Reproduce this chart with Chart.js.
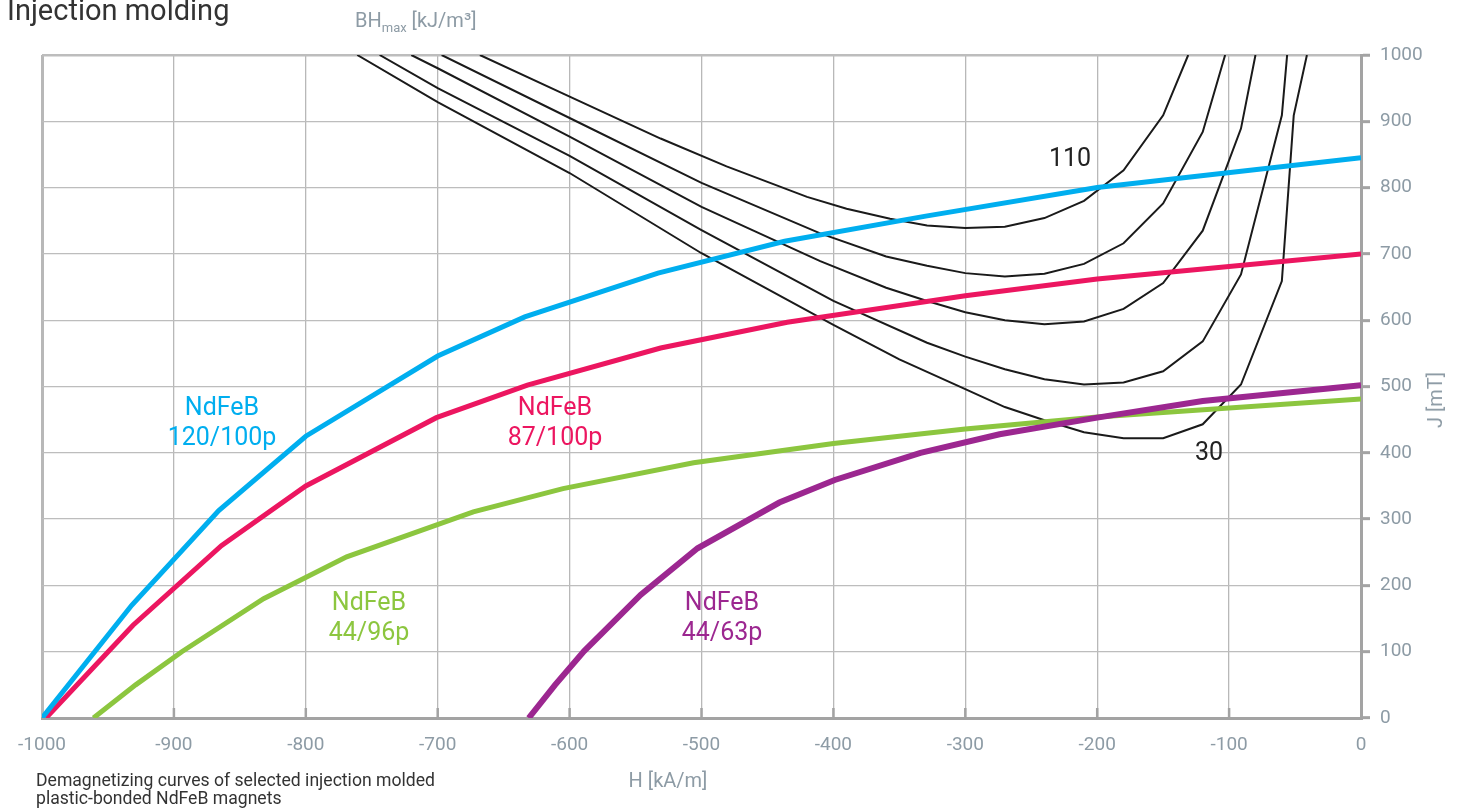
<!DOCTYPE html>
<html>
<head>
    <title>Injection molding</title>
    <script src="https://cdn.jsdelivr.net/npm/chart.js"></script>
    <style>
        body { margin: 0; background: #fff; }
        .wrap { position: relative; width: 1470px; height: 812px; overflow: hidden; font-family: Roboto, sans-serif; }
        canvas { position: absolute; left: 0; top: 0; }
        .txt { position: absolute; line-height: 1; white-space: nowrap; }
        .lbl { position: absolute; font-size: 25px; line-height: 30px; text-align: center; transform: translateX(-50%); white-space: nowrap; }
        .gray { color: #8d9ba5; }
    </style>
</head>
<body>
<div class="wrap">
    <canvas id="bhChart" width="1470" height="812"></canvas>

    <div class="txt" style="left:7px; top:-4px; font-size:29px; color:#333;">Injection molding</div>
    <div class="txt gray" style="left:355px; top:10px; font-size:20px;">BH<sub style="font-size:13px;">max</sub> [kJ/m³]</div>
    <div class="txt gray" style="left:668px; top:770px; font-size:20px; transform:translateX(-50%);">H [kA/m]</div>
    <div class="txt gray" style="left:1435px; top:400px; font-size:20px; transform:translate(-50%,-50%) rotate(-90deg);">J [mT]</div>
    <div class="txt" style="left:36px; top:771px; font-size:17.6px; line-height:18px; color:#333;">Demagnetizing curves of selected injection molded<br>plastic-bonded NdFeB magnets</div>

    <div class="lbl" style="left:222px; top:392px; color:#00aeef;">NdFeB<br>120/100p</div>
    <div class="lbl" style="left:555px; top:392px; color:#ec1660;">NdFeB<br>87/100p</div>
    <div class="lbl" style="left:369px; top:587px; color:#8cc63f;">NdFeB<br>44/96p</div>
    <div class="lbl" style="left:722px; top:587px; color:#9c2790;">NdFeB<br>44/63p</div>
    <div class="lbl" style="left:1070px; top:143px; color:#222;">110</div>
    <div class="lbl" style="left:1209px; top:437px; color:#222;">30</div>
</div>

<script>
    // demagnetizing curves, H in kA/m, J in mT
    const hBlue  = [-1000, -932, -866, -800, -700, -634, -533, -437, -330, -200, 0];
    const jBlue  = [0, 170, 313, 425, 546, 605, 671, 719, 757, 800, 845];

    const hRed   = [-997, -931, -864, -800, -701, -632, -531, -435, -300, -200, 0];
    const jRed   = [0, 140, 260, 350, 453, 502, 558, 597, 637, 662, 700];

    const hGreen = [-961, -929, -894, -832, -769, -673, -605, -506, -400, -300, -200, 0];
    const jGreen = [0, 50, 100, 180, 243, 311, 346, 385, 414, 436, 454, 481];

    const hPurple = [-631, -611, -589, -546, -503, -441, -399, -334, -274, -200, -120, 0];
    const jPurple = [0, 50, 101, 186, 256, 325, 359, 400, 428, 453, 478, 502];

    // BHmax iso lines (kJ/m3)
    const h30  = [-761, -700, -600, -500, -400, -350, -300, -270, -240, -210, -180, -150, -120, -91, -60, -51, -41];
    const j30  = [1000, 929, 822, 701, 593, 541, 496, 469, 449, 431, 422, 422, 443, 503, 659, 909, 1000];

    const h50  = [-744, -700, -600, -500, -400, -329, -300, -270, -240, -210, -180, -150, -120, -91, -60, -56];
    const j50  = [1000, 950, 848, 736, 629, 566, 545, 526, 511, 503, 506, 523, 568, 669, 909, 1000];

    const h70  = [-720, -700, -600, -500, -410, -360, -329, -300, -270, -240, -210, -180, -150, -120, -91, -80];
    const j70  = [1000, 980, 877, 771, 689, 649, 629, 612, 600, 594, 598, 617, 656, 735, 889, 1000];

    const h90  = [-697, -600, -500, -410, -360, -329, -300, -270, -240, -210, -180, -150, -120, -103];
    const j90  = [1000, 905, 807, 731, 696, 682, 671, 666, 670, 685, 716, 776, 884, 1000];

    const h110 = [-668, -602, -531, -481, -420, -390, -357, -329, -300, -270, -240, -210, -180, -150, -131];
    const j110 = [1000, 939, 874, 832, 786, 768, 753, 743, 739, 741, 754, 780, 826, 909, 1000];

    const xTicks = [-1000, -900, -800, -700, -600, -500, -400, -300, -200, -100, 0];

    function pts(h, j) {
        return h.map((v, i) => ({ x: v, y: j[i] }));
    }

    function bhLine(h, j) {
        return { data: pts(h, j), borderColor: '#1a1a1a', borderWidth: 2, order: 10 };
    }

    const gray = '#8d9ba5';
    const axisGray = '#a3a3a3';

    // small inward ticks on the H axis
    const innerTicks = {
        id: 'innerTicks',
        beforeDatasetsDraw(chart) {
            const c = chart.ctx, xs = chart.scales.x, bottom = chart.chartArea.bottom;
            c.save();
            c.strokeStyle = axisGray;
            c.lineWidth = 2.5;
            xTicks.slice(1, -1).forEach(v => {
                const px = xs.getPixelForValue(v);
                c.beginPath();
                c.moveTo(px, bottom);
                c.lineTo(px, bottom - 10);
                c.stroke();
            });
            c.restore();
        }
    };

    const ctx = document.getElementById('bhChart').getContext('2d');
    const chart = new Chart(ctx, {
        type: 'scatter',
        data: {
            datasets: [
                bhLine(h30, j30),
                bhLine(h50, j50),
                bhLine(h70, j70),
                bhLine(h90, j90),
                bhLine(h110, j110),
                { data: pts(hGreen, jGreen), borderColor: '#8cc63f', borderWidth: 5, order: 4 },
                { data: pts(hPurple, jPurple), borderColor: '#9c2790', borderWidth: 6, order: 3 },
                { data: pts(hRed, jRed), borderColor: '#ec1660', borderWidth: 5, order: 2 },
                { data: pts(hBlue, jBlue), borderColor: '#00aeef', borderWidth: 5, order: 1 }
            ].map(d => Object.assign({ showLine: true, pointRadius: 0, fill: false, tension: 0 }, d))
        },
        options: {
            responsive: false,
            animation: false,
            layout: { padding: { left: 42, top: 55, right: 0, bottom: 0 } },
            plugins: { legend: { display: false }, tooltip: { enabled: false } },
            scales: {
                x: {
                    type: 'linear', min: -1000, max: 0,
                    afterBuildTicks: s => { s.ticks = xTicks.map(v => ({ value: v })); },
                    afterFit: s => { s.height = 94; },
                    ticks: {
                        color: gray, padding: 16, maxRotation: 0,
                        font: { family: 'Roboto', size: 19 },
                        callback: v => String(v)
                    },
                    grid: {
                        drawTicks: false,
                        color: '#b8b8b8',
                        lineWidth: c => (c.tick && c.tick.value === -1000) ? 3 : 1.3
                    },
                    border: { color: axisGray, width: 3 }
                },
                y: {
                    position: 'right', min: 0, max: 1000,
                    afterFit: s => { s.width = 109; },
                    ticks: {
                        stepSize: 100, color: gray, padding: 10,
                        font: { family: 'Roboto', size: 19 },
                        callback: v => String(v)
                    },
                    grid: {
                        color: '#bdbdbd',
                        lineWidth: c => (c.tick && c.tick.value === 1000) ? 2.5 : 1.3,
                        tickColor: axisGray, tickWidth: 3, tickLength: 9
                    },
                    border: { color: axisGray, width: 3 }
                }
            }
        },
        plugins: [innerTicks]
    });
</script>
</body>
</html>
